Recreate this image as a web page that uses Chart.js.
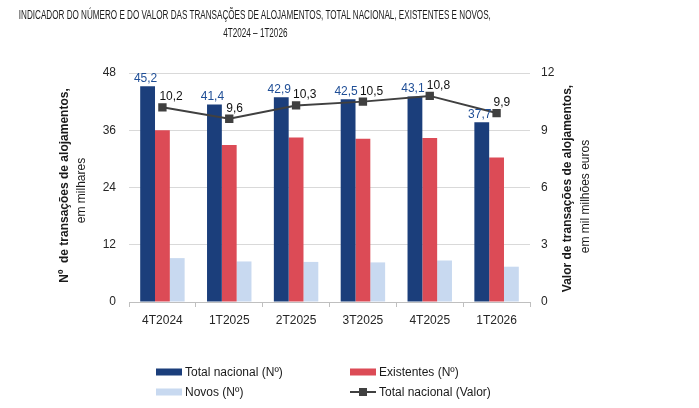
<!DOCTYPE html>
<html>
<head>
<meta charset="utf-8">
<script src="https://cdn.jsdelivr.net/npm/chart.js@4/dist/chart.umd.min.js"></script>
<style>
  html, body { margin: 0; padding: 0; background: #fff; }
  #wrap { position: relative; width: 699px; height: 408px; overflow: hidden; }
  #chart { position: absolute; left: 0; top: 0; }
  .title { position: absolute; white-space: nowrap; line-height: 14px;
           font-family: "Liberation Sans", Arial, sans-serif; font-size: 12px; color: #1a1a1a;
           transform-origin: center center; }
</style>
</head>
<body>
<div id="wrap">
  <canvas id="chart" width="699" height="408"></canvas>
  <div class="title" id="t1" style="top:8px">INDICADOR DO NÚMERO E DO VALOR DAS TRANSAÇÕES DE ALOJAMENTOS, TOTAL NACIONAL, EXISTENTES E NOVOS,</div>
  <div class="title" id="t2" style="top:26px">4T2024 – 1T2026</div>
</div>
<script>
// ---- Data ----
const categories = ['4T2024', '1T2025', '2T2025', '3T2025', '4T2025', '1T2026'];
const totalNacional = [45.2, 41.4, 42.9, 42.5, 43.1, 37.7];
const existentes = [36.0, 32.9, 34.5, 34.2, 34.4, 30.3];
const novos = [9.2, 8.5, 8.4, 8.3, 8.7, 7.4];
const totalValor = [10.2, 9.6, 10.3, 10.5, 10.8, 9.9];
const leftTicks = [0, 12, 24, 36, 48];
const rightTicks = [0, 3, 6, 9, 12];
const seriesNames = ['Total nacional (Nº)', 'Existentes (Nº)', 'Novos (Nº)', 'Total nacional (Valor)'];
const leftAxisTitle = ['Nº  de transações de alojamentos,', 'em milhares'];
const rightAxisTitle = ['Valor de transações de alojamentos,', 'em mil milhões euros'];

// fit title width (narrow condensed look of the original)
(function () {
  const t1 = document.getElementById('t1');
  const t2 = document.getElementById('t2');
  const w1 = t1.getBoundingClientRect().width;
  const s = 472 / w1;
  const cx = 255;
  [t1, t2].forEach(t => {
    const w = t.getBoundingClientRect().width;
    t.style.left = (cx - w / 2) + 'px';
    t.style.transform = 'scaleX(' + s + ')';
  });
})();

const FONT = '"Liberation Sans", Arial, sans-serif';
const COLORS = { total: '#1b3e7b', exist: '#dc4b56', novos: '#c8d9f0', line: '#404040' };
const fmt = v => v.toFixed(1).replace('.', ',');

const decoPlugin = {
  id: 'deco',
  afterDatasetsDraw(chart) {
    const ctx = chart.ctx;
    ctx.save();
    ctx.font = '12px ' + FONT;
    // total nacional labels
    const m0 = chart.getDatasetMeta(0);
    ctx.fillStyle = '#1f4e96';
    ctx.textAlign = 'center';
    ctx.textBaseline = 'alphabetic';
    m0.data.forEach((el, i) => {
      ctx.fillText(fmt(totalNacional[i]), el.x - 2, el.y - 4);
    });
    // line labels
    const m3 = chart.getDatasetMeta(3);
    ctx.fillStyle = '#111';
    ctx.textAlign = 'left';
    m3.data.forEach((el, i) => {
      ctx.fillText(fmt(totalValor[i]), el.x - 3, el.y - 7);
    });
    ctx.restore();
  },
  afterDraw(chart) {
    const ctx = chart.ctx;
    const ca = chart.chartArea;
    ctx.save();
    // axis titles
    const cy = (ca.top + ca.bottom) / 2;
    const drawRot = (text, x, y, bold) => {
      ctx.save();
      ctx.translate(x, y);
      ctx.rotate(-Math.PI / 2);
      ctx.font = (bold ? 'bold ' : '') + '12px ' + FONT;
      ctx.fillStyle = '#1a1a1a';
      ctx.textAlign = 'center';
      ctx.textBaseline = 'middle';
      ctx.fillText(text, 0, 0);
      ctx.restore();
    };
    drawRot(leftAxisTitle[0], 65, cy - 2, true);
    drawRot(leftAxisTitle[1], 82, cy + 3, false);
    drawRot(rightAxisTitle[0], 568, cy + 1, true);
    drawRot(rightAxisTitle[1], 586, cy + 9, false);

    // legend
    ctx.font = '12px ' + FONT;
    ctx.textBaseline = 'middle';
    ctx.textAlign = 'left';
    const items = [
      { x: 156, y: 372, type: 'box', color: COLORS.total, label: seriesNames[0] },
      { x: 350, y: 372, type: 'box', color: COLORS.exist, label: seriesNames[1] },
      { x: 156, y: 392, type: 'box', color: COLORS.novos, label: seriesNames[2] },
      { x: 350, y: 392, type: 'line', color: COLORS.line, label: seriesNames[3] }
    ];
    items.forEach(it => {
      if (it.type === 'box') {
        ctx.fillStyle = it.color;
        ctx.fillRect(it.x, it.y - 3.5, 26, 7);
      } else {
        ctx.strokeStyle = it.color;
        ctx.lineWidth = 2;
        ctx.beginPath();
        ctx.moveTo(it.x, it.y);
        ctx.lineTo(it.x + 26, it.y);
        ctx.stroke();
        ctx.fillStyle = it.color;
        ctx.fillRect(it.x + 9, it.y - 4, 8, 8);
      }
      ctx.fillStyle = '#1a1a1a';
      ctx.fillText(it.label, it.x + 29, it.y + 1);
    });
    ctx.restore();
  }
};

new Chart(document.getElementById('chart'), {
  type: 'bar',
  data: {
    labels: categories,
    datasets: [
      { label: seriesNames[0], data: totalNacional, backgroundColor: COLORS.total, yAxisID: 'y', order: 2 },
      { label: seriesNames[1], data: existentes, backgroundColor: COLORS.exist, yAxisID: 'y', order: 2 },
      { label: seriesNames[2], data: novos, backgroundColor: COLORS.novos, yAxisID: 'y', order: 2 },
      { label: seriesNames[3], data: totalValor, type: 'line', yAxisID: 'y1', order: 1,
        borderColor: COLORS.line, backgroundColor: COLORS.line, borderWidth: 2,
        pointStyle: 'rect', pointRadius: 4.5, pointHoverRadius: 4.5, tension: 0 }
    ]
  },
  options: {
    responsive: false,
    animation: false,
    events: [],
    layout: { padding: { top: 73, left: 0, right: 0, bottom: 0 } },
    datasets: { bar: { categoryPercentage: 0.665, barPercentage: 1.0, borderWidth: 0 } },
    plugins: { legend: { display: false }, title: { display: false }, tooltip: { enabled: false } },
    scales: {
      x: {
        offset: true,
        grid: { offset: true, drawOnChartArea: false, drawTicks: true, tickLength: 5, color: '#bfbfbf' },
        border: { color: '#bfbfbf' },
        ticks: { color: '#262626', font: { family: FONT, size: 12 }, padding: 6 },
        afterFit(s) { s.height = 106; }
      },
      y: {
        position: 'left', min: 0, max: 48,
        afterBuildTicks(s) { s.ticks = leftTicks.map(v => ({ value: v })); },
        grid: { color: '#d9d9d9', drawTicks: false },
        border: { display: false },
        ticks: { color: '#262626', font: { family: FONT, size: 12 }, padding: 13 },
        afterFit(s) { s.width = 129; }
      },
      y1: {
        position: 'right', min: 0, max: 12,
        afterBuildTicks(s) { s.ticks = rightTicks.map(v => ({ value: v })); },
        grid: { drawOnChartArea: false, drawTicks: false },
        border: { display: false },
        ticks: { color: '#262626', font: { family: FONT, size: 12 }, padding: 11 },
        afterFit(s) { s.width = 169; }
      }
    }
  },
  plugins: [decoPlugin]
});
</script>
</body>
</html>
